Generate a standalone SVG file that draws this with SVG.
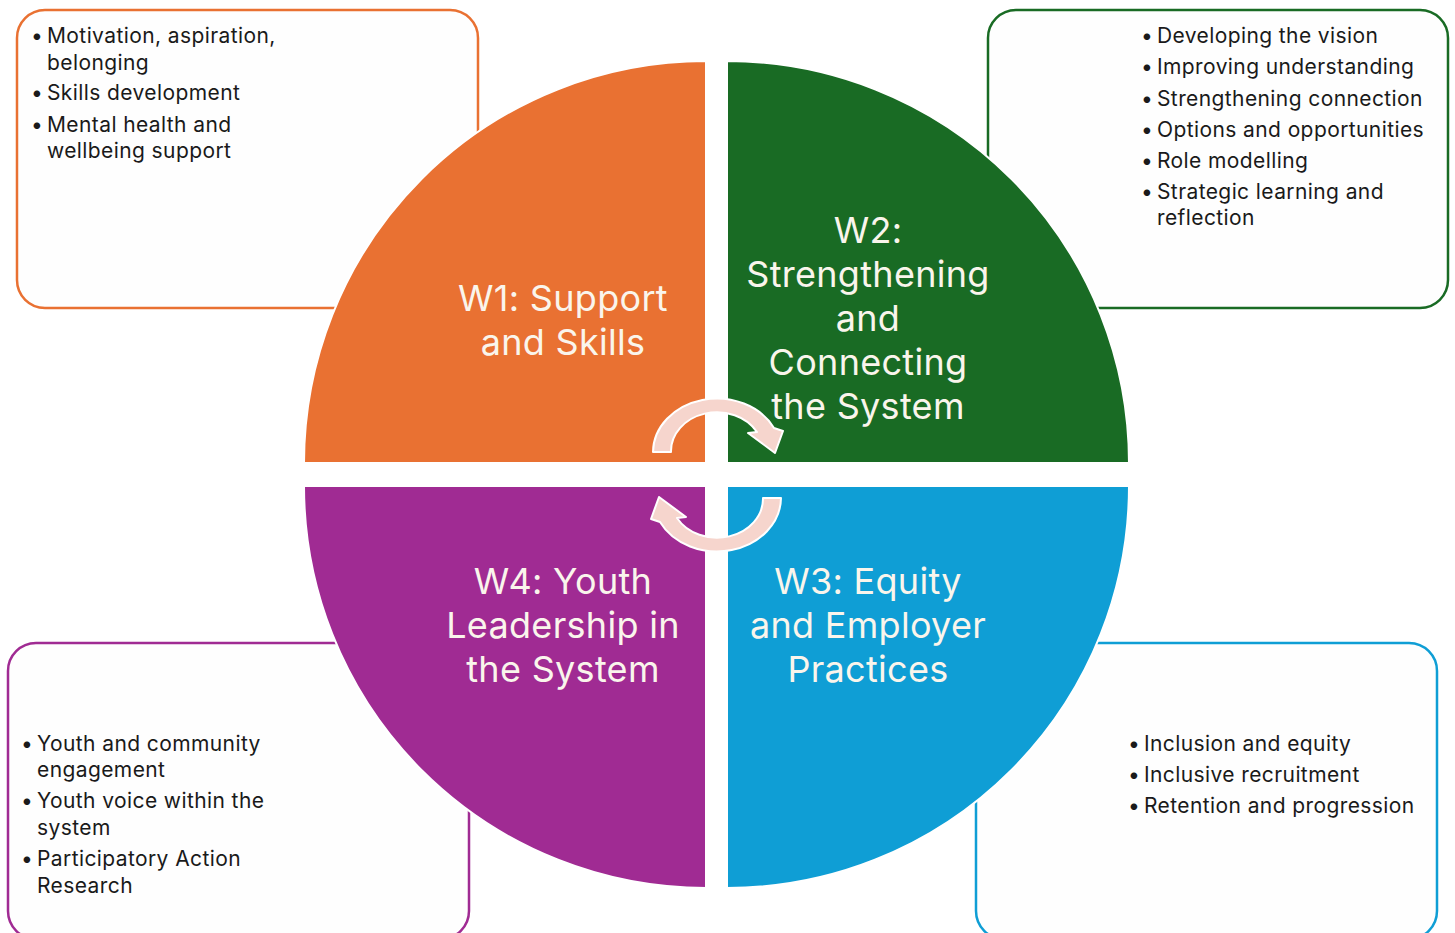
<svg xmlns="http://www.w3.org/2000/svg" width="1455" height="933" viewBox="0 0 1455 933">
<style>
.box{fill:#FEFEFE;stroke-width:2.5}
.b{font-family:Inter,"Noto Sans",sans-serif;font-size:21px;letter-spacing:0.4px;fill:#1a1a1a}
.lab{font-family:Inter,"Noto Sans",sans-serif;font-size:36px;letter-spacing:0.3px;fill:#FAF5EC;text-anchor:middle}
.q{stroke:#FFFFFF;stroke-width:2}
.arr{fill:#F6D5CD;stroke:#FFFFFF;stroke-width:2;stroke-linejoin:round}
</style>
<defs>
<path id="arrowTop" d="M653,452 A64,54 0 0 1 774,428 L783,431 L775,453 L748,433 L757,432 A46,39 0 0 0 671,452 Z"/>
</defs>
<rect width="1455" height="933" fill="#FFFFFF"/>
<g id="box-w1"><rect class="box" x="17" y="10" width="461" height="298" rx="28" stroke="#E97132"/>
<text class="b" x="31" y="43">•</text><text class="b" x="47" y="43">Motivation, aspiration,</text>
<text class="b" x="47" y="70">belonging</text>
<text class="b" x="31" y="100">•</text><text class="b" x="47" y="100">Skills development</text>
<text class="b" x="31" y="132">•</text><text class="b" x="47" y="132">Mental health and</text>
<text class="b" x="47" y="158">wellbeing support</text>
</g>
<g id="box-w2"><rect class="box" x="988" y="10" width="460" height="298" rx="28" stroke="#196B24"/>
<text class="b" x="1141" y="43">•</text><text class="b" x="1157" y="43">Developing the vision</text>
<text class="b" x="1141" y="74">•</text><text class="b" x="1157" y="74">Improving understanding</text>
<text class="b" x="1141" y="106">•</text><text class="b" x="1157" y="106">Strengthening connection</text>
<text class="b" x="1141" y="137">•</text><text class="b" x="1157" y="137">Options and opportunities</text>
<text class="b" x="1141" y="168">•</text><text class="b" x="1157" y="168">Role modelling</text>
<text class="b" x="1141" y="199">•</text><text class="b" x="1157" y="199">Strategic learning and</text>
<text class="b" x="1157" y="225">reflection</text>
</g>
<g id="box-w4"><rect class="box" x="8" y="643" width="461" height="296" rx="28" stroke="#A02B93"/>
<text class="b" x="21" y="751">•</text><text class="b" x="37" y="751">Youth and community</text>
<text class="b" x="37" y="777">engagement</text>
<text class="b" x="21" y="808">•</text><text class="b" x="37" y="808">Youth voice within the</text>
<text class="b" x="37" y="835">system</text>
<text class="b" x="21" y="866">•</text><text class="b" x="37" y="866">Participatory Action</text>
<text class="b" x="37" y="893">Research</text>
</g>
<g id="box-w3"><rect class="box" x="976" y="643" width="461" height="296" rx="28" stroke="#0F9ED5"/>
<text class="b" x="1128" y="751">•</text><text class="b" x="1144" y="751">Inclusion and equity</text>
<text class="b" x="1128" y="782">•</text><text class="b" x="1144" y="782">Inclusive recruitment</text>
<text class="b" x="1128" y="813">•</text><text class="b" x="1144" y="813">Retention and progression</text>
</g>
<g id="w1"><path class="q" fill="#E97132" d="M706,463 L304,463 A402,402 0 0 1 706,61 Z"/>
<text class="lab" x="563" y="311">W1: Support</text><text class="lab" x="563" y="355">and Skills</text></g>
<g id="w2"><path class="q" fill="#196B24" d="M727,463 L727,61 A402,402 0 0 1 1129,463 Z"/>
<text class="lab" x="868" y="243">W2:</text><text class="lab" x="868" y="287">Strengthening</text><text class="lab" x="868" y="331">and</text><text class="lab" x="868" y="375">Connecting</text><text class="lab" x="868" y="419">the System</text></g>
<g id="w3"><path class="q" fill="#0F9ED5" d="M727,486 L1129,486 A402,402 0 0 1 727,888 Z"/>
<text class="lab" x="868" y="594">W3: Equity</text><text class="lab" x="868" y="638">and Employer</text><text class="lab" x="868" y="682">Practices</text></g>
<g id="w4"><path class="q" fill="#A02B93" d="M706,486 L706,888 A402,402 0 0 1 304,486 Z"/>
<text class="lab" x="563" y="594">W4: Youth</text><text class="lab" x="563" y="638">Leadership in</text><text class="lab" x="563" y="682">the System</text></g>
<g id="connectors">
<use href="#arrowTop" class="arr"/>
<use href="#arrowTop" class="arr" transform="rotate(180 717 475)"/>
</g>
</svg>
